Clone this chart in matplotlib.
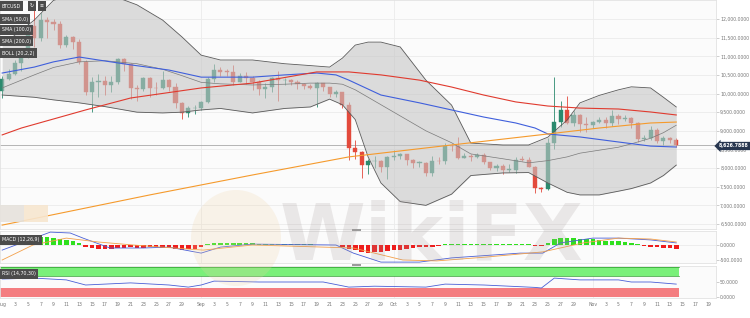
import numpy as np
import pandas as pd
import matplotlib
matplotlib.use("Agg")
import matplotlib.pyplot as plt
from matplotlib.patches import Rectangle, Ellipse

# ---- data (BTCUSD daily, Aug 1 - Nov 14) ----
dates = pd.date_range("2019-08-01", "2019-11-19", freq="D")

opens = [10080, 10400, 10530, 10820, 10980, 11800, 11480, 11960, 11920, 11870,
         11300, 11520, 11380, 10850, 10040, 10310, 10340, 10230, 10310, 10940,
         10800, 10140, 10120, 10420, 10150, 10140, 10360, 10180, 9740, 9490, 9600,
         9620, 9770, 10400, 10630, 10590, 10580, 10320, 10480, 10410, 10320,
         10120, 10170, 10420, 10360, 10360, 10310, 10260, 10200, 10160, 10280,
         10170, 9990, 10040, 9680, 8540, 8430, 8080, 8190, 8200, 8030,
         8300, 8330, 8380, 8220, 8140, 8140, 7870, 8200, 8180, 8600,
         8590, 8270, 8320, 8300, 8350, 8160, 8000, 8060, 7950, 7960,
         8230, 8220, 8030, 7470, 7430, 8670, 9240, 9560, 9200, 9420, 9170,
         9150, 9240, 9300, 9200, 9410, 9320, 9340, 9200, 8780, 8810,
         9030, 8730, 8810, 8760]
closes = [10400, 10530, 10820, 10980, 11800, 11480, 11960, 11920, 11870, 11300,
          11520, 11380, 10850, 10040, 10310, 10340, 10230, 10310, 10940, 10800,
          10140, 10120, 10420, 10150, 10140, 10360, 10180, 9740, 9490, 9600, 9620,
          9770, 10400, 10630, 10590, 10580, 10320, 10480, 10410, 10320, 10120,
          10170, 10420, 10360, 10360, 10310, 10260, 10200, 10160, 10280, 10170,
          9990, 10040, 9680, 8540, 8430, 8080, 8190, 8200, 8030, 8300,
          8330, 8380, 8220, 8140, 8140, 7870, 8200, 8180, 8600, 8590,
          8270, 8320, 8300, 8350, 8160, 8000, 8060, 7950, 7960, 8230,
          8220, 8030, 7470, 7430, 8670, 9240, 9560, 9200, 9420, 9170, 9150,
          9240, 9300, 9200, 9410, 9320, 9340, 9200, 8780, 8810, 9030,
          8730, 8810, 8760, 8627]
highs = [10460, 10650, 10900, 11080, 11900, 12300, 12160, 12060, 12000, 11950,
         11580, 11550, 11450, 10900, 10450, 10520, 10460, 10480, 10950, 10950,
         10820, 10240, 10440, 10440, 10300, 10600, 10390, 10270, 9770, 9660, 9680,
         9800, 10450, 10800, 10700, 10650, 10760, 10560, 10590, 10480, 10360,
         10290, 10450, 10600, 10420, 10390, 10370, 10280, 10260, 10320, 10290,
         10180, 10090, 10050, 9780, 8750, 8470, 8250, 8330, 8220, 8330,
         8490, 8400, 8390, 8240, 8190, 8170, 8320, 8310, 8660, 8640,
         8830, 8410, 8380, 8400, 8400, 8170, 8120, 8110, 8100, 8290,
         8320, 8300, 8050, 7500, 8800, 10450, 9800, 9930, 9520, 9440, 9370,
         9270, 9370, 9360, 9550, 9450, 9420, 9360, 9230, 8880, 9120,
         9070, 8860, 8830, 8800]
lows = [9880, 10350, 10500, 10600, 10960, 11250, 11420, 11500, 11700, 11230,
        11250, 11200, 10780, 9950, 9500, 9900, 9950, 10050, 10260, 10600,
        9850, 9800, 10060, 9900, 9960, 10130, 10080, 9620, 9320, 9370, 9440,
        9550, 9740, 10320, 10460, 10480, 10220, 10300, 10260, 10100, 9960,
        9870, 10030, 9800, 10240, 10240, 10110, 10130, 10110, 9640, 10060,
        9910, 9900, 9620, 8210, 8250, 7735, 7850, 8000, 7900, 7720,
        8220, 8240, 8080, 8000, 8030, 7800, 7780, 8120, 8100, 8460,
        8240, 8260, 8200, 8260, 8100, 7950, 7930, 7830, 7900, 7880,
        8180, 8020, 7330, 7360, 7420, 8500, 9100, 9180, 9120, 8980, 8980,
        9070, 9200, 9080, 9120, 9180, 9270, 9080, 8690, 8740, 8760,
        8680, 8610, 8680, 8570]

# moving averages, read at sample days (day 0 = Aug 1)
sma50_day = [0, 5, 8, 12, 15, 20, 26, 31, 39, 44, 49, 52, 54, 59, 65, 70, 75, 80, 83, 85, 90, 96, 101, 105]
sma50_val = [10550, 10710, 10850, 10980, 10900, 10770, 10630, 10440, 10440, 10500, 10550, 10500,
             10360, 9960, 9750, 9560, 9370, 9210, 9075, 8915, 8835, 8700, 8590, 8565]
sma100_day = [0, 3, 13, 20, 31, 39, 49, 54, 59, 65, 70, 75, 80, 85, 90, 96, 101, 105]
sma100_val = [8890, 9075, 9560, 9880, 10150, 10280, 10580, 10580, 10500, 10360, 10175, 9960,
              9775, 9665, 9610, 9585, 9505, 9425]
sma200_day = [0, 23, 39, 54, 70, 85, 93, 101, 105]
sma200_val = [6470, 7280, 7815, 8300, 8620, 8915, 9075, 9210, 9235]

# bollinger bands (20, 2)
boll_day = [0, 5, 8, 12, 16, 21, 25, 28, 31, 34, 39, 44, 48, 51, 53, 55, 57, 59, 62, 66,
            70, 73, 78, 82, 85, 88, 90, 93, 96, 98, 101, 103, 105]
boll_up = [11300, 11970, 12500, 12700, 12700, 12380, 11970, 11520, 11030, 10900, 10900, 10800,
           10750, 10710, 10950, 11300, 11380, 11380, 11250, 10360, 9690, 8670, 8620, 8620,
           8830, 9290, 9750, 9950, 10100, 10180, 10150, 9900, 9640]
boll_mid = [10150, 10500, 10700, 10850, 10880, 10800, 10650, 10480, 10300, 10260, 10230, 10250,
            10280, 10280, 10250, 10100, 9900, 9700, 9400, 9000, 8680, 8380, 8250, 8140,
            8200, 8300, 8400, 8480, 8560, 8650, 8800, 8950, 9150]
boll_low = [9960, 9900, 9830, 9750, 9650, 9500, 9480, 9500, 9560, 9600, 9480, 9600,
            9640, 9850, 9700, 9300, 8300, 7600, 7100, 7000, 7300, 7800, 7870, 7880,
            7600, 7350, 7280, 7280, 7380, 7450, 7600, 7800, 8080]

# MACD (12, 26, 9)
macd_day = [0, 3, 7.5, 10.6, 12.6, 16.8, 22, 26, 31, 34, 39, 52, 54.7, 59, 65, 70, 80.7, 84.2,
            87, 92, 96, 101, 105]
macd_val = [-170, 70, 430, 400, 230, -100, -100, -70, -270, -70, 30, 0, -270, -570, -570, -430,
            -270, -270, 70, 230, 230, 170, 70]
signal_day = [0, 4.8, 10, 15, 20.4, 31.3, 39, 54.7, 62.4, 67.7, 75.5, 84.2, 90.5, 96, 101, 105]
signal_val = [-500, 0, 230, 100, 0, -170, 0, -100, -500, -530, -400, -230, 70, 230, 200, 100]
hist = [100, 150, 200, 230, 260, 280, 260, 270, 240, 200, 170, 120, 70,
        -60, -100, -130, -130, -120, -110, -90, -80, -90, -90, -80, -80, -90, -110, -130, -150, -140, -120,
        -60, 40, 70, 80, 80, 70, 70, 60, 60, 50, 50, 50, 40, 40, 30, 30, 20, 20, 10, 10, 0, -10, -60,
        -120, -180, -230, -250, -240, -230, -210,
        -180, -150, -120, -100, -80, -70, -50, -30, 30, 50, 50, 50, 50, 50, 40, 40, 40, 40, 40, 40, 30,
        20, -20, -30, 80, 200, 250, 250, 230, 210, 200,
        190, 170, 150, 140, 120, 100, 80, 30, -30, -60, -80, -90, -110, -130]

# RSI (14)
rsi_day = [0, 5, 10, 13, 20, 26, 29, 31, 33, 40, 50, 54, 58, 66, 69, 75, 83, 84, 86, 90, 96, 98, 101, 105]
rsi_val = [60, 63, 57, 40, 47, 40, 33, 40, 53, 50, 50, 33, 36, 33, 43, 40, 32, 30, 63, 57, 57, 50, 50, 43]

last_price = 8626.7888
price_ticks = np.arange(6500, 12001, 500)

# ---- layout helpers ----
W, H = 750, 318


def box(l, t, w, h):
    return [l / W, 1 - (t + h) / H, w / W, h / H]


def px2price(y):
    return 12000 - (y - 19) / 0.03727


x_right = (716 - 2.16) / 6.42
x_left = -2.16 / 6.42

fig = plt.figure(figsize=(W / 100, H / 100), dpi=100)
fig.patch.set_facecolor("white")

ax = fig.add_axes(box(0, 0, 716, 229))
ax_m = fig.add_axes(box(0, 231, 716, 32), sharex=ax)
ax_r = fig.add_axes(box(0, 266, 716, 32), sharex=ax)

up_c, dn_c = "#2b8a6e", "#e34a3c"
grid_c = "#ebebeb"
tick_c = "#777777"

for a in (ax, ax_m, ax_r):
    a.set_facecolor("#fbfbfb")
    for s in a.spines.values():
        s.set_color("#e2e2e2")
        s.set_linewidth(0.6)
    a.yaxis.tick_right()
    a.tick_params(axis="y", length=2, width=0.4, color="#aaaaaa", labelsize=3.3,
                  labelcolor=tick_c, pad=1)
    a.tick_params(axis="x", length=0)
    for m in ("2019-09-01", "2019-10-01", "2019-11-01"):
        a.axvline((pd.Timestamp(m) - dates[0]).days, color=grid_c, lw=0.6, zorder=0)

# ---- main price panel ----
n = len(opens)
idx = np.arange(n)
for i in idx:
    o, c = opens[i], closes[i]
    col = up_c if c >= o else dn_c
    ax.vlines(i, lows[i], highs[i], color=col, lw=0.6, zorder=2)
    ax.add_patch(Rectangle((i - 0.32, min(o, c)), 0.64, max(abs(c - o), 12),
                           fc=col, ec=col, lw=0.3, zorder=3))

for p in price_ticks:
    ax.axhline(p, color=grid_c, lw=0.6, zorder=0)

ax.fill_between(boll_day, boll_low, boll_up, color="#c6c6c6", alpha=0.6, lw=0, zorder=4)
ax.plot(boll_day, boll_up, color="#5a5a5a", lw=0.6, zorder=5)
ax.plot(boll_day, boll_low, color="#5a5a5a", lw=0.6, zorder=5)
ax.plot(boll_day, boll_mid, color="#7a7a7a", lw=0.5, zorder=5)

ax.plot(sma50_day, sma50_val, color="#3f5fdc", lw=0.8, zorder=6)
ax.plot(sma100_day, sma100_val, color="#e03a2e", lw=0.8, zorder=6)
ax.plot(sma200_day, sma200_val, color="#f59a2c", lw=0.8, zorder=6)

ax.axhline(last_price, color="#a9a9a9", lw=0.6, zorder=1)

ax.set_ylim(px2price(229), px2price(0))
ax.set_yticks(price_ticks)
ax.set_yticklabels([f"{p:,.4f}" for p in price_ticks])
ax.set_xlim(x_left, x_right)
plt.setp(ax.get_xticklabels(), visible=False)

# ---- MACD panel ----
hcol = ["#2fe01e" if h >= 0 else "#ee1c1c" for h in hist]
ax_m.bar(idx, hist, width=0.7, color=hcol, zorder=2)
ax_m.plot(macd_day, macd_val, color="#4a5fd6", lw=0.6, zorder=3)
ax_m.plot(signal_day, signal_val, color="#f3a04a", lw=0.6, zorder=3)
ax_m.set_ylim(-600, 467)
ax_m.set_yticks([0, -500])
ax_m.set_yticklabels(["0.0000", "-500.0000"])
ax_m.axhline(0, color=grid_c, lw=0.6, zorder=0)
plt.setp(ax_m.get_xticklabels(), visible=False)

# ---- RSI panel ----
ax_r.fill_between([-0.5, n - 0.5], 70, 100, color="#7af07a", lw=0, zorder=1)
ax_r.fill_between([-0.5, n - 0.5], 0, 30, color="#f47d80", lw=0, zorder=1)
ax_r.plot([-0.5, n - 0.5], [100, 100], color="#2c9a2c", lw=0.5, zorder=2)
ax_r.plot([-0.5, n - 0.5], [70, 70], color="#2c9a2c", lw=0.5, zorder=2)
ax_r.plot(rsi_day, rsi_val, color="#4a5fd6", lw=0.6, zorder=3)
ax_r.set_ylim(-3.3, 103.3)
ax_r.set_yticks([50, 0])
ax_r.set_yticklabels(["50.0000", "0.0000"])

# x tick labels
tick_pos, tick_lab = [], []
for d in dates:
    if d.day == 1:
        tick_pos.append((d - dates[0]).days)
        tick_lab.append(d.strftime("%b"))
    elif d.day % 2 == 1 and d.day < 30:
        tick_pos.append((d - dates[0]).days)
        tick_lab.append(str(d.day))
ax_r.set_xticks(tick_pos)
ax_r.set_xticklabels(tick_lab)
ax_r.tick_params(axis="x", labelsize=3.3, labelcolor=tick_c, pad=3)
ax_r.set_xlim(x_left, x_right)

# ---- overlays: legend boxes, price tag, handles, watermark ----
lab_kw = dict(color="white", fontsize=3.4, va="center", ha="left",
              bbox=dict(boxstyle="square,pad=0.45", fc="#4b4b4b", ec="none"))
fig.text(2 / W, 1 - 6 / H, "BTCUSD", **lab_kw)
fig.text(30 / W, 1 - 6 / H, "\u21bb", **lab_kw)
fig.text(40 / W, 1 - 6 / H, "\u2261", **lab_kw)
fig.text(2 / W, 1 - 19 / H, "SMA (50,0)", **lab_kw)
fig.text(2 / W, 1 - 30 / H, "SMA (100,0)", **lab_kw)
fig.text(2 / W, 1 - 41 / H, "SMA (200,0)", **lab_kw)
fig.text(2 / W, 1 - 53 / H, "BOLL (20,2,2)", **lab_kw)
fig.text(2 / W, 1 - 240 / H, "MACD (12,26,9)", **lab_kw)
fig.text(2 / W, 1 - 274 / H, "RSI (14,70,30)", **lab_kw)

fig.text(719 / W, 1 - 146 / H, f"{last_price:,.4f}", color="white", fontsize=3.4,
         va="center", ha="left", weight="bold",
         bbox=dict(boxstyle="larrow,pad=0.35", fc="#27364f", ec="none"))

for yy in (229, 264):
    fig.patches.append(Rectangle((352 / W, 1 - (yy + 2) / H), 9 / W, 2 / H,
                                 transform=fig.transFigure, fc="#9a9a9a", ec="none"))

fig.patches.append(Rectangle((0, 1 - 222 / H), 24 / W, 17 / H, transform=fig.transFigure,
                             fc="#e6e2dc", ec="none", alpha=0.9))
fig.patches.append(Rectangle((24 / W, 1 - 222 / H), 24 / W, 17 / H, transform=fig.transFigure,
                             fc="#f7e6cf", ec="none", alpha=0.9))

fig.patches.append(Ellipse((236 / W, 1 - 238 / H), 90 / W, 96 / H, transform=fig.transFigure,
                           fc="#f0d3a6", ec="none", alpha=0.22, zorder=10))
fig.text(432 / W, 1 - 238 / H, "WikiFX", fontsize=56, weight="bold", color="#a39797",
         alpha=0.2, ha="center", va="center", zorder=10)

fig.savefig("out.png", dpi=100)
